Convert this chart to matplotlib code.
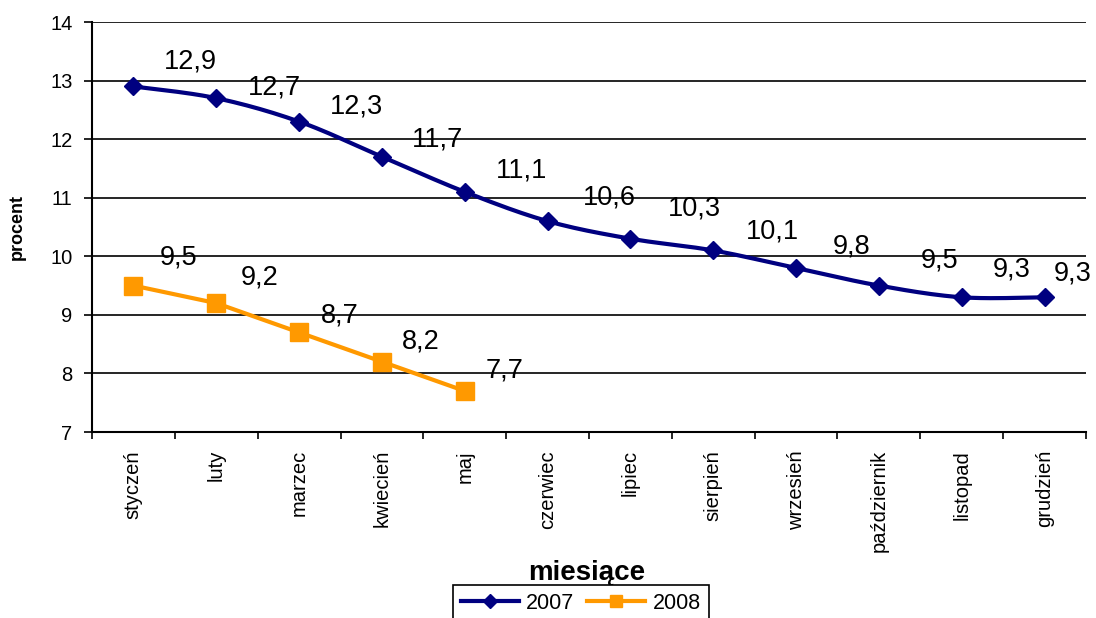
import numpy as np
import matplotlib
matplotlib.use("Agg")
import matplotlib.pyplot as plt
from matplotlib.lines import Line2D

plt.rcParams['font.family'] = ['Liberation Sans', 'DejaVu Sans']

months = ["styczeń", "luty", "marzec", "kwiecień", "maj", "czerwiec", "lipiec",
          "sierpień", "wrzesień", "październik", "listopad", "grudzień"]
values_2007 = [12.9, 12.7, 12.3, 11.7, 11.1, 10.6, 10.3, 10.1, 9.8, 9.5, 9.3, 9.3]
values_2008 = [9.5, 9.2, 8.7, 8.2, 7.7]
yticks = [7, 8, 9, 10, 11, 12, 13, 14]

# label placement (pixel offsets of the label centre from its marker) - layout only
label_off_2007 = [(57, 28), (58, 13), (57, 18), (56, 20), (57, 24), (62, 26),
                  (64, 33), (59, 22), (55, 24), (61, 28), (50, 30), (28, 26)]
label_off_2008 = [(45, 31), (43, 28), (41, 20), (39, 23), (40, 23)]

NAVY = "#000080"
ORANGE = "#FF9900"
LABEL_FS = 19.5


def smooth(x, y, n=20):
    """Catmull-Rom style smoothing of a polyline (like Excel smoothed line)."""
    x = np.asarray(x, float)
    y = np.asarray(y, float)
    px = np.concatenate([[x[0]], x, [x[-1]]])
    py = np.concatenate([[y[0]], y, [y[-1]]])
    xs, ys = [], []
    t = np.linspace(0, 1, n)
    for i in range(1, len(px) - 2):
        p0, p1, p2, p3 = (np.array([px[j], py[j]]) for j in (i - 1, i, i + 1, i + 2))
        c1 = p1 + (p2 - p0) / 6
        c2 = p2 - (p3 - p1) / 6
        pts = ((1 - t) ** 3)[:, None] * p1 + (3 * (1 - t) ** 2 * t)[:, None] * c1 \
            + (3 * (1 - t) * t ** 2)[:, None] * c2 + (t ** 3)[:, None] * p2
        xs.extend(pts[:, 0])
        ys.extend(pts[:, 1])
    return np.array(xs), np.array(ys)


fig = plt.figure(figsize=(10.96, 6.18), dpi=100)
ax = fig.add_axes([92 / 1096, 1 - 432 / 618, (1086 - 92) / 1096, (432 - 22) / 618])

x07 = np.arange(len(values_2007))
x08 = np.arange(len(values_2008))

sx, sy = smooth(x07, values_2007)
ax.plot(sx, sy, color=NAVY, lw=3, zorder=3)
ax.plot(x07, values_2007, ls='none', marker='D', ms=9.5, color=NAVY, zorder=4)
ax.plot(x08, values_2008, color=ORANGE, lw=3, marker='s', ms=13, zorder=4)

# baseline sits ~0.358 em below the digit centre
base_shift = 0.358 * LABEL_FS * 100 / 72
for xs, vals, offs in ((x07, values_2007, label_off_2007), (x08, values_2008, label_off_2008)):
    for xx, v, (dx, dy) in zip(xs, vals, offs):
        ax.annotate(f"{v:.1f}".replace('.', ','), (xx, v), textcoords='offset pixels',
                    xytext=(dx, dy - base_shift), ha='center', va='baseline',
                    fontsize=LABEL_FS, color='black', zorder=5, annotation_clip=False)

ax.set_xlim(-0.5, len(months) - 0.5)
ax.set_ylim(7, 14)
ax.set_yticks(yticks)
ax.set_yticklabels([str(t) for t in yticks], fontsize=14.5)
ax.set_xticks(np.arange(len(months)))
ax.set_xticklabels(months, rotation=90, fontsize=14.5)
ax.set_xticks(np.arange(len(months) + 1) - 0.5, minor=True)
ax.tick_params(axis='x', which='major', length=0, pad=13)
ax.tick_params(axis='x', which='minor', length=5, width=1.2, color='black')
ax.tick_params(axis='y', length=6, width=1.2, direction='out', pad=8)

ax.grid(axis='y', color='black', lw=1.2)
ax.set_axisbelow(True)
for s in ('top', 'right'):
    ax.spines[s].set_visible(False)
for s in ('left', 'bottom'):
    ax.spines[s].set_linewidth(1.5)

ax.set_ylabel("procent", fontsize=13, fontweight='bold')
ax.yaxis.set_label_coords(-(92 - 26) / 994, 0.5)
fig.text(587 / 1096, 1 - 573 / 618, "miesiące", fontsize=20, fontweight='bold',
         ha='center', va='center')

handles = [Line2D([], [], color=NAVY, lw=3, marker='D', ms=7),
           Line2D([], [], color=ORANGE, lw=3, marker='s', ms=8)]
leg = fig.legend(handles, ["2007", "2008"], ncol=2, loc='upper left',
                 bbox_to_anchor=(453 / 1096, 1 - 585 / 618), borderaxespad=0,
                 fontsize=15.5, frameon=True, fancybox=False, edgecolor='black',
                 framealpha=1, handlelength=2.7, borderpad=0.35,
                 columnspacing=0.6, handletextpad=0.35)
leg.get_frame().set_linewidth(1.2)

fig.savefig("out.png", dpi=100)
